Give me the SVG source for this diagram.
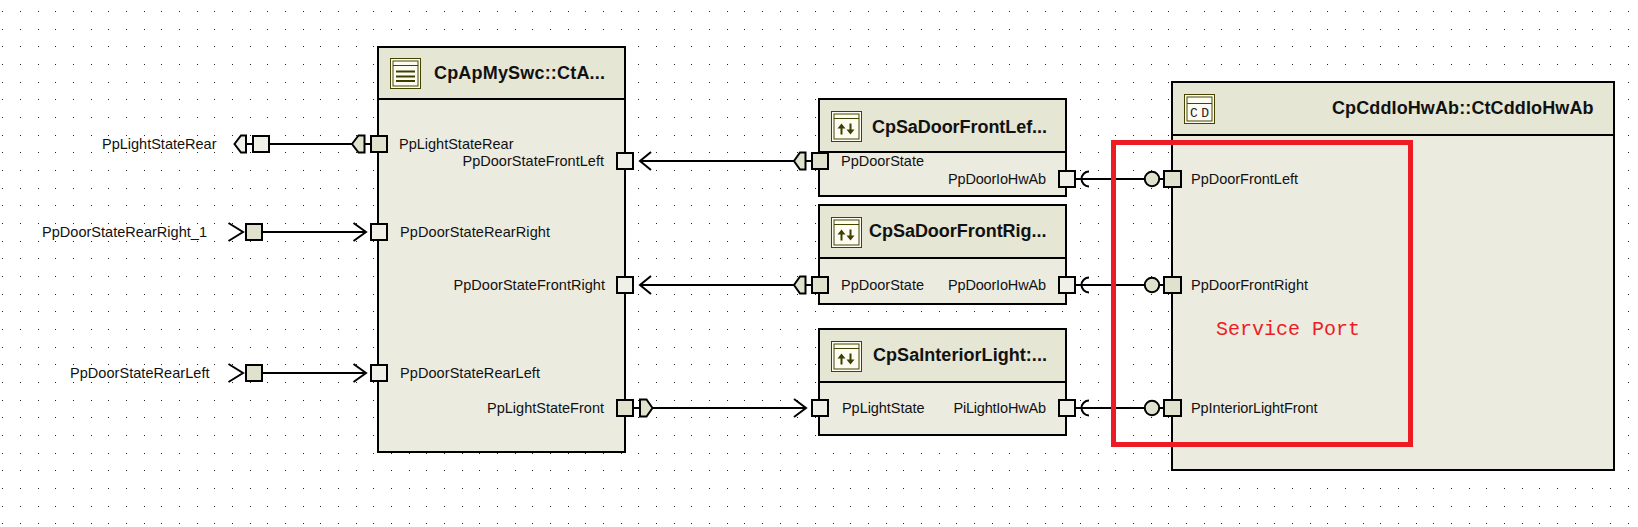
<svg xmlns="http://www.w3.org/2000/svg" width="1638" height="527" viewBox="0 0 1638 527">
<style>
text{font-family:"Liberation Sans",Arial,sans-serif;fill:#111}
.l{font-size:14.5px}
.r{font-size:14.5px;text-anchor:end}
.t{font-size:18px;font-weight:bold}
.box{stroke:#000;stroke-width:2;fill:#ecebe0}
.hd{stroke:#000;stroke-width:2;fill:#e5e6d3}
.pl{stroke:#000;stroke-width:2;fill:#f1f0e8}
.pd{stroke:#000;stroke-width:2;fill:#e1e2ce}
.ln{stroke:#000;stroke-width:2;fill:none}
.ic{stroke:#444400;stroke-width:1;fill:#fdfcf2}
.ib{stroke:#444400;stroke-width:1;fill:none}
.im{fill:#3f3f00;stroke:none}
#dots path{stroke:#222;stroke-width:1;fill:none;stroke-dasharray:1 17 1 17 1 16}
</style>
<defs>
<g id="ico-sa">
<rect class="ic" x="0.5" y="0.5" width="30" height="30"/>
<rect class="ib" x="3" y="3" width="25" height="25"/>
<path class="ib" d="M3 7.5H28"/>
<path class="im" d="M10.500 12.500l4 5h-3v6h-2v-6h-3zM19.500 23.500l4-5h-3v-6h-2v6h-3z"/>
</g>
</defs>
<rect width="1638" height="527" fill="#fff"/>
<g id="dots"><path stroke-dashoffset="-2" d="M0 11.500H1638M0 29.500H1638M0 46.500H1638M0 64.500H1638M0 82.500H1638M0 99.500H1638M0 117.500H1638M0 135.500H1638M0 152.500H1638M0 170.500H1638M0 188.500H1638M0 205.500H1638M0 223.500H1638M0 241.500H1638M0 258.500H1638M0 276.500H1638M0 294.500H1638M0 311.500H1638M0 329.500H1638M0 347.500H1638M0 364.500H1638M0 382.500H1638M0 400.500H1638M0 417.500H1638M0 435.500H1638M0 453.500H1638M0 470.500H1638M0 488.500H1638M0 506.500H1638M0 523.500H1638"/></g>

<g id="connectors">
<path class="ln" d="M246 144H252M270 144H352M365 144H370"/>
<path class="ln" d="M262 232H366M262 373H366"/>
<path class="ln" d="M640 161H794M805 161H811M640 285H794M805 285H811"/>
<path class="ln" d="M634 408H640M652 408H806"/>
<path class="ln" d="M1075 179H1144M1160 179H1163M1075 285H1144M1160 285H1163M1075 408H1144M1160 408H1163"/>
<path class="pl" d="M234.500 144L241 135.500H246V152.500H241Z"/>
<path class="pd" d="M352 144L358.500 135.500H364.500V152.500H358.500Z"/>
<path class="pd" d="M794 161L800 152.500H805.500V169.500H800Z"/>
<path class="pd" d="M794 285L800 276.500H805.500V293.500H800Z"/>
<path class="pd" d="M652.500 408L646.500 399.500H640V416.500H646.500Z"/>
<path class="ln" d="M228.500 223L243 232L228.500 241M353.500 223L366 232L353.500 241M228.500 364L243 373L228.500 382M353.500 364L366 373L353.500 382"/>
<path class="ln" d="M651 152L640 161L651 170M651 276L640 285L651 294M794 399L806 408L794 417"/>
<path class="ln" d="M1089 171.500A7.500 7.500 0 0 0 1089 186.500M1089 277.500A7.500 7.500 0 0 0 1089 292.500M1089 400.500A7.500 7.500 0 0 0 1089 415.500"/>
<circle class="pd" cx="1152" cy="179" r="7.200"/>
<circle class="pd" cx="1152" cy="285" r="7.200"/>
<circle class="pd" cx="1152" cy="408" r="7.200"/>
</g>

<g id="ext-PpLightStateRear"><rect class="pl" x="253" y="136" width="16" height="16"/><text class="l" x="102" y="149" textLength="114.500">PpLightStateRear</text></g>
<g id="ext-PpDoorStateRearRight_1"><rect class="pd" x="246" y="224" width="16" height="16"/><text class="l" x="42" y="237" textLength="165">PpDoorStateRearRight_1</text></g>
<g id="ext-PpDoorStateRearLeft"><rect class="pd" x="246" y="365" width="16" height="16"/><text class="l" x="70" y="378" textLength="139.500">PpDoorStateRearLeft</text></g>

<g id="CpApMySwc">
<rect class="box" x="378" y="47" width="247" height="405"/>
<rect class="hd" x="378" y="47" width="247" height="52"/>
<rect class="ic" x="390.500" y="58.500" width="30" height="30"/>
<rect class="ib" x="393" y="61" width="25" height="25"/>
<path class="ib" d="M393 65.500H418"/>
<path d="M396 71.500H415M396 76.500H415M396 81H415" stroke="#3f3f00" stroke-width="2"/>
<text class="t" x="434" y="79" textLength="171">CpApMySwc::CtA...</text>
<rect class="pd" x="371" y="136" width="16" height="16"/>
<text class="l" x="399" y="149" textLength="114.500">PpLightStateRear</text>
<rect class="pl" x="617" y="153" width="16" height="16"/>
<text class="r" x="604" y="166" textLength="141.500">PpDoorStateFrontLeft</text>
<rect class="pl" x="371" y="224" width="16" height="16"/>
<text class="l" x="400" y="237" textLength="150">PpDoorStateRearRight</text>
<rect class="pl" x="617" y="277" width="16" height="16"/>
<text class="r" x="605" y="290" textLength="151.500">PpDoorStateFrontRight</text>
<rect class="pl" x="371" y="365" width="16" height="16"/>
<text class="l" x="400" y="378" textLength="140">PpDoorStateRearLeft</text>
<rect class="pd" x="617" y="400" width="16" height="16"/>
<text class="r" x="604" y="413" textLength="117">PpLightStateFront</text>
</g>

<g id="CpSaDoorFrontLeft">
<rect class="box" x="819" y="99" width="247" height="97"/>
<rect class="hd" x="819" y="99" width="247" height="53"/>
<use href="#ico-sa" x="831" y="111"/>
<text class="t" x="872" y="133" textLength="175">CpSaDoorFrontLef...</text>
<rect class="pd" x="812" y="153" width="16" height="16"/>
<text class="l" x="841" y="166" textLength="83">PpDoorState</text>
<rect class="pl" x="1059" y="171" width="16" height="16"/>
<text class="r" x="1046" y="184" textLength="98">PpDoorIoHwAb</text>
</g>

<g id="CpSaDoorFrontRight">
<rect class="box" x="819" y="205" width="247" height="99"/>
<rect class="hd" x="819" y="205" width="247" height="53"/>
<use href="#ico-sa" x="831" y="217"/>
<text class="t" x="869" y="237" textLength="177.500">CpSaDoorFrontRig...</text>
<rect class="pd" x="812" y="277" width="16" height="16"/>
<text class="l" x="841" y="290" textLength="83">PpDoorState</text>
<rect class="pl" x="1059" y="277" width="16" height="16"/>
<text class="r" x="1046" y="290" textLength="98">PpDoorIoHwAb</text>
</g>

<g id="CpSaInteriorLight">
<rect class="box" x="819" y="329" width="247" height="106"/>
<rect class="hd" x="819" y="329" width="247" height="53"/>
<use href="#ico-sa" x="831" y="341"/>
<text class="t" x="873" y="361" textLength="174">CpSaInteriorLight:...</text>
<rect class="pl" x="812" y="400" width="16" height="16"/>
<text class="l" x="842" y="413" textLength="82.500">PpLightState</text>
<rect class="pl" x="1059" y="400" width="16" height="16"/>
<text class="r" x="1046" y="413" textLength="92.500">PiLightIoHwAb</text>
</g>

<g id="CpCddIoHwAb">
<rect class="box" x="1172" y="82" width="442" height="388"/>
<rect class="hd" x="1172" y="82" width="442" height="53"/>
<rect class="ic" x="1184.500" y="94.500" width="30" height="29"/>
<rect class="ib" x="1187" y="97" width="25" height="24"/>
<path class="ib" d="M1187 103.500H1212"/>
<text x="1190" y="117" style="font-family:'Liberation Mono',monospace;font-size:13px;letter-spacing:3.500px;fill:#222">CD</text>
<text class="t" x="1332" y="114" textLength="261.500">CpCddIoHwAb::CtCddIoHwAb</text>
<rect class="pd" x="1164" y="171" width="17" height="16"/>
<text class="l" x="1191" y="184" textLength="107">PpDoorFrontLeft</text>
<rect class="pd" x="1164" y="277" width="17" height="16"/>
<text class="l" x="1191" y="290" textLength="117">PpDoorFrontRight</text>
<rect class="pd" x="1164" y="400" width="17" height="16"/>
<text class="l" x="1191" y="413" textLength="126.500">PpInteriorLightFront</text>
</g>

<g id="annotation">
<rect x="1113.500" y="142.500" width="297" height="302" fill="none" stroke="#ed1c24" stroke-width="5"/>
<text x="1216" y="335" style="font-family:'Liberation Mono',monospace;font-size:20px;fill:#ed1c24">Service Port</text>
</g>
</svg>
